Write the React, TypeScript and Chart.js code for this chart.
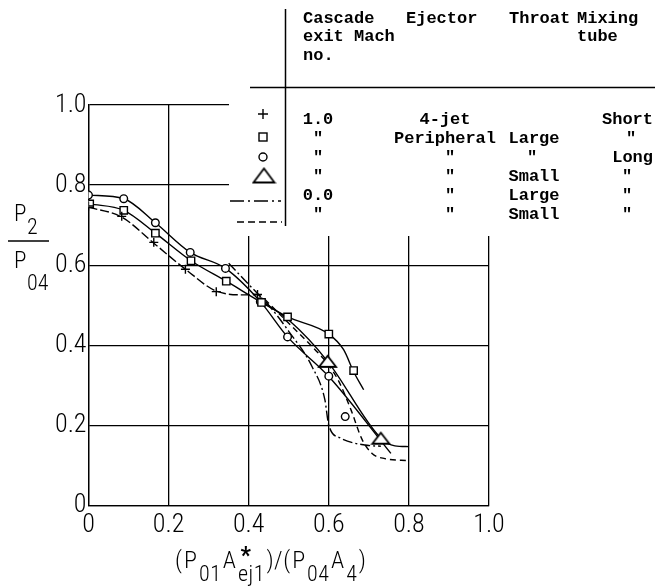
import React, { useEffect, useRef } from 'react';
import { Chart, registerables } from 'chart.js';

Chart.register(...registerables);

// ---------- data ----------
const tickLabels = ['0', '0.2', '0.4', '0.6', '0.8', '1.0'];

// measured points (x, P2/P04)
const plusPts = [[0, 0.748], [0.083, 0.722], [0.163, 0.657], [0.242, 0.59], [0.319, 0.534], [0.422, 0.527]];
const squarePts = [[0.003, 0.753], [0.088, 0.737], [0.167, 0.68], [0.256, 0.611], [0.344, 0.56], [0.432, 0.507], [0.497, 0.471], [0.6, 0.428], [0.662, 0.337]];
const circlePts = [[0, 0.775], [0.088, 0.766], [0.167, 0.706], [0.254, 0.632], [0.342, 0.592], [0.429, 0.509], [0.497, 0.421], [0.6, 0.323], [0.641, 0.222]];
const trianglePts = [[0.597, 0.36], [0.73, 0.168]];

// faired curves
const plusCurve = [[0, 0.745], [0.083, 0.72], [0.163, 0.655], [0.242, 0.59], [0.32, 0.535], [0.39, 0.526], [0.422, 0.527], [0.44, 0.505]];
const squareCurve = [[0.003, 0.753], [0.088, 0.737], [0.167, 0.68], [0.256, 0.611], [0.344, 0.56], [0.432, 0.507], [0.497, 0.471], [0.6, 0.428], [0.637, 0.389], [0.662, 0.334], [0.687, 0.289]];
const circleCurve = [[0, 0.775], [0.088, 0.766], [0.167, 0.706], [0.254, 0.632], [0.342, 0.592], [0.429, 0.509], [0.497, 0.421], [0.6, 0.322], [0.755, 0.13]];
const triangleCurve = [[0.43, 0.512], [0.5, 0.463], [0.597, 0.36], [0.73, 0.168], [0.765, 0.149], [0.8, 0.147]];
const dashDotCurve = [[0.35, 0.605], [0.4, 0.552], [0.45, 0.5], [0.5, 0.435], [0.558, 0.347], [0.59, 0.265], [0.6, 0.2], [0.63, 0.168], [0.69, 0.151], [0.73, 0.148]];
const dashedCurve = [[0.44, 0.515], [0.5, 0.455], [0.56, 0.395], [0.6, 0.35], [0.625, 0.31], [0.655, 0.24], [0.683, 0.165], [0.708, 0.13], [0.74, 0.117], [0.8, 0.112]];

// legend table text
const headerCascade = ['Cascade', 'exit Mach', 'no.'];
const headerEjector = ['Ejector'];
const headerThroat = ['Throat'];
const headerTube = ['Mixing', 'tube'];
const machCol = ['1.0', '"', '"', '"', '0.0', '"'];
const ejectorCol = ['4-jet', 'Peripheral', '"', '"', '"', '"'];
const throatCol = ['', 'Large', '"', 'Small', 'Large', 'Small'];
const tubeCol = ['Short', '"', 'Long', '"', '"', '"'];

// axis titles: [text, isSubscript]
const xTitleParts: [string, boolean][] = [['(', false], ['P', false], ['01', true], ['A', false], ['ej1', true], [')/(', false], ['P', false], ['04', true], ['A', false], ['4', true], [')', false]];
const xTitleStar = '*';
const yTitleNum: [string, string] = ['P', '2'];
const yTitleDen: [string, string] = ['P', '04'];

// ---------- helpers ----------
const SANS = "'Roboto Condensed', 'Liberation Sans Narrow', 'Roboto', sans-serif";
const MONO = "'Liberation Mono', 'DejaVu Sans Mono', monospace";

const toXY = (arr: number[][]) => arr.map(([x, y]) => ({ x, y }));

function makeTriangle(w: number, h: number, lw: number) {
  const c = document.createElement('canvas');
  c.width = w + 4;
  c.height = h + 4;
  const g = c.getContext('2d')!;
  g.lineWidth = lw;
  g.strokeStyle = '#000';
  g.fillStyle = '#fff';
  g.beginPath();
  g.moveTo(2, h + 2);
  g.lineTo(w / 2 + 2, 2);
  g.lineTo(w + 2, h + 2);
  g.closePath();
  g.fill();
  g.stroke();
  return c;
}

export default function App() {
  const ref = useRef<HTMLCanvasElement>(null);

  useEffect(() => {
    const tri = makeTriangle(17, 11, 1.8);
    const triBig = makeTriangle(21, 14, 1.8);

    const curve = (data: number[][], dash: number[]) => ({
      type: 'line' as const,
      data: toXY(data),
      showLine: true,
      borderColor: '#000',
      borderWidth: 1.4,
      borderDash: dash,
      pointRadius: 0,
      cubicInterpolationMode: 'monotone' as const,
      fill: false,
      order: 2,
    });
    const marks = (data: number[][], style: any, r: number) => ({
      type: 'scatter' as const,
      data: toXY(data),
      showLine: false,
      pointStyle: style,
      pointRadius: r,
      pointBorderColor: '#000',
      pointBackgroundColor: '#fff',
      pointBorderWidth: 1.4,
      order: 1,
    });

    const whiteBg = {
      id: 'whiteBg',
      beforeDraw(c: any) {
        const ctx = c.ctx;
        ctx.save();
        ctx.fillStyle = '#fff';
        ctx.fillRect(0, 0, c.width, c.height);
        ctx.restore();
      },
    };

    const overlay = {
      id: 'overlay',
      afterDraw(c: any) {
        const ctx: CanvasRenderingContext2D = c.ctx;
        ctx.save();
        ctx.fillStyle = '#fff';
        ctx.fillRect(229, 0, 426, 236);

        ctx.strokeStyle = '#000';
        ctx.fillStyle = '#000';
        ctx.lineWidth = 1.5;
        ctx.beginPath();
        ctx.moveTo(285.5, 9);
        ctx.lineTo(285.5, 226);
        ctx.moveTo(250, 87.5);
        ctx.lineTo(655, 87.5);
        ctx.stroke();

        // symbols
        const sx = 263;
        ctx.lineWidth = 1.4;
        ctx.beginPath();
        ctx.moveTo(sx - 5, 114);
        ctx.lineTo(sx + 5, 114);
        ctx.moveTo(sx, 109);
        ctx.lineTo(sx, 119);
        ctx.stroke();
        ctx.strokeRect(sx - 4, 133, 8, 8);
        ctx.beginPath();
        ctx.arc(sx, 157, 4, 0, Math.PI * 2);
        ctx.stroke();
        ctx.drawImage(triBig, sx - triBig.width / 2 + 1, 175.5 - triBig.height / 2);
        ctx.setLineDash([14, 4, 2, 4]);
        ctx.beginPath();
        ctx.moveTo(230, 201);
        ctx.lineTo(281, 201);
        ctx.stroke();
        ctx.setLineDash([7, 4]);
        ctx.beginPath();
        ctx.moveTo(237, 222);
        ctx.lineTo(282, 222);
        ctx.stroke();
        ctx.setLineDash([]);

        // header text
        ctx.font = `bold 17px ${MONO}`;
        ctx.textBaseline = 'alphabetic';
        ctx.textAlign = 'left';
        const hb = [22.5, 41, 59.5];
        headerCascade.forEach((t, i) => ctx.fillText(t, 303, hb[i]));
        headerEjector.forEach((t, i) => ctx.fillText(t, 406, hb[i]));
        headerThroat.forEach((t, i) => ctx.fillText(t, 509, hb[i]));
        headerTube.forEach((t, i) => ctx.fillText(t, 577, hb[i]));

        // rows
        const rb = (i: number) => 124 + 19 * i;
        ctx.textAlign = 'center';
        machCol.forEach((t, i) => ctx.fillText(t, 318, rb(i)));
        ejectorCol.forEach((t, i) => ctx.fillText(t, t === '"' ? 450 : 445, rb(i)));
        throatCol.forEach((t, i) => ctx.fillText(t, t === '"' ? 532 : 534, rb(i)));
        tubeCol.forEach((t, i) => {
          if (t === '"') {
            ctx.textAlign = 'center';
            ctx.fillText(t, i === 1 ? 631 : 627, rb(i));
          } else {
            ctx.textAlign = 'right';
            ctx.fillText(t, 653, rb(i));
          }
        });

        // y-axis title (fraction)
        ctx.textAlign = 'left';
        ctx.font = `300 23px ${SANS}`;
        ctx.fillText(yTitleNum[0], 14, 221);
        ctx.font = `300 22px ${SANS}`;
        ctx.fillText(yTitleNum[1], 27, 234);
        ctx.lineWidth = 1.3;
        ctx.beginPath();
        ctx.moveTo(8, 241);
        ctx.lineTo(49, 241);
        ctx.stroke();
        ctx.font = `300 23px ${SANS}`;
        ctx.fillText(yTitleDen[0], 14, 268);
        ctx.font = `300 22px ${SANS}`;
        ctx.fillText(yTitleDen[1], 27, 290);

        // x-axis title
        let x = 175;
        (ctx as any).letterSpacing = '0.5px';
        for (const [t, sub] of xTitleParts) {
          ctx.font = `300 ${sub ? 22 : 24}px ${SANS}`;
          ctx.fillText(t, x, sub ? 581 : 568);
          if (t === 'ej1') {
            ctx.save();
            ctx.font = `bold 23px ${SANS}`;
            ctx.textAlign = 'center';
            ctx.fillText(xTitleStar, x + 8, 563);
            ctx.restore();
          }
          x += ctx.measureText(t).width + 1.5;
        }
        (ctx as any).letterSpacing = '0px';
        ctx.restore();
      },
    };

    const tickFont = { family: SANS, size: 26, weight: '300' as any };

    const chart = new Chart(ref.current!, {
      type: 'scatter',
      data: {
        datasets: [
          marks(plusPts, 'cross', 4.5),
          marks(squarePts, 'rect', 5.2),
          marks(circlePts, 'circle', 3.8),
          marks(trianglePts, tri, 8),
          curve(plusCurve, [9, 3]),
          curve(squareCurve, []),
          curve(circleCurve, []),
          curve(triangleCurve, []),
          curve(dashDotCurve, [10, 3, 2, 3]),
          curve(dashedCurve, [6, 4]),
        ] as any,
      },
      options: {
        responsive: false,
        animation: false,
        events: [],
        layout: { padding: { top: 105, right: 166, left: 0, bottom: 0 } },
        plugins: { legend: { display: false }, tooltip: { enabled: false } },
        scales: {
          x: {
            type: 'linear',
            min: 0,
            max: 1,
            afterFit: (s: any) => {
              s.height = 82.5;
            },
            ticks: {
              stepSize: 0.2,
              autoSkip: false,
              maxRotation: 0,
              padding: 4,
              color: '#000',
              font: tickFont,
              callback: (_v: any, i: number) => tickLabels[i],
            },
            grid: { color: '#000', lineWidth: 1.3, drawTicks: false },
            border: { color: '#000', width: 1.3 },
          },
          y: {
            type: 'linear',
            min: 0,
            max: 1,
            afterFit: (s: any) => {
              s.width = 88.5;
            },
            ticks: {
              stepSize: 0.2,
              autoSkip: false,
              padding: 2,
              color: '#000',
              font: tickFont,
              callback: (_v: any, i: number) => tickLabels[i],
            },
            grid: { color: '#000', lineWidth: 1.3, drawTicks: false },
            border: { color: '#000', width: 1.3 },
          },
        },
      },
      plugins: [whiteBg, overlay],
    });
    return () => chart.destroy();
  }, []);

  return (
    <div style={{ position: 'fixed', left: 0, top: 0, width: 655, height: 588, background: '#fff' }}>
      <canvas ref={ref} width={655} height={588} style={{ width: 655, height: 588, display: 'block' }} />
    </div>
  );
}
